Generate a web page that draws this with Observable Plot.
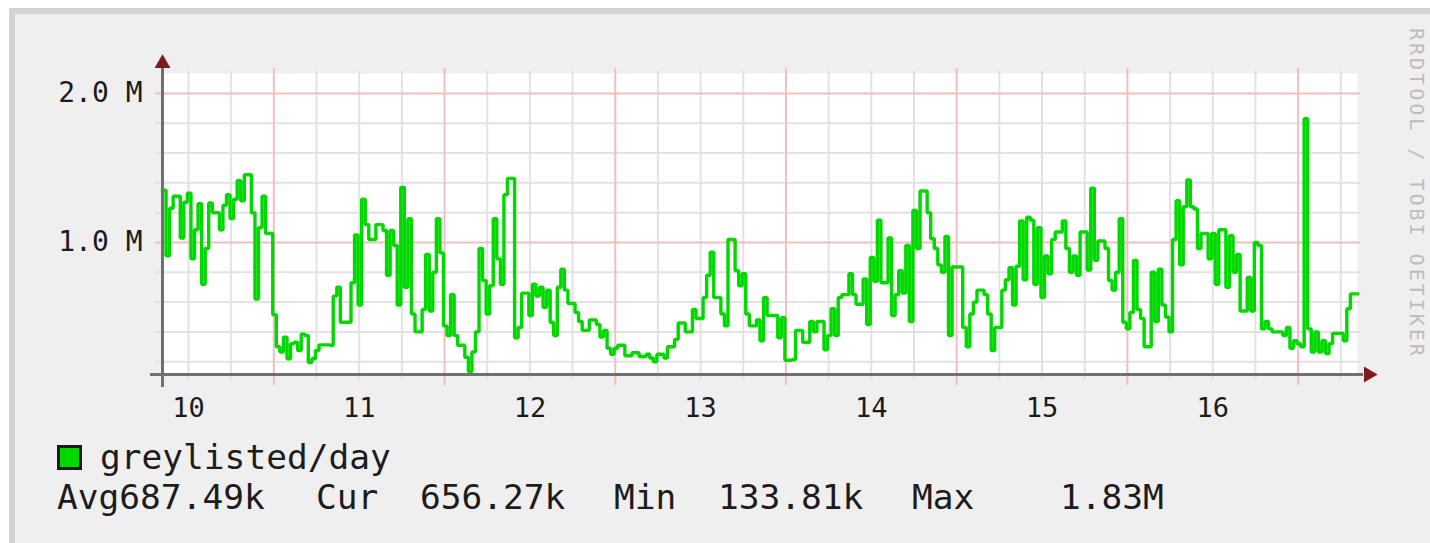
<!DOCTYPE html>
<html>
<head>
<meta charset="utf-8">
<script src="https://cdn.jsdelivr.net/npm/d3@7"></script>
<script src="https://cdn.jsdelivr.net/npm/@observablehq/plot@0.6"></script>
<style>
  html, body { margin: 0; padding: 0; background: #ffffff; }
  #wrap { position: relative; width: 1430px; height: 543px; overflow: hidden; background: #ffffff; }
  #canvas { position: absolute; left: 9px; top: 8px; right: 0; bottom: 0; background: #efefef;
            border-top: 6px solid #d3d3d3; border-left: 6px solid #d3d3d3; }
  #chart { position: absolute; left: 0; top: 0; }
  .mono { font-family: "DejaVu Sans Mono", "Liberation Mono", monospace; color: #1c1c1c; position: absolute; white-space: pre; line-height: 34px; font-size: 34.5px; }
  #swatch { position: absolute; left: 57px; top: 445px; width: 25px; height: 25px; box-sizing: border-box; border: 3px solid #1a1a1a; }
  #watermark { position: absolute; left: 1407px; top: 28px; writing-mode: vertical-rl; font-family: "DejaVu Sans Mono", monospace;
               font-size: 20px; line-height: 20px; letter-spacing: 3px; color: #bdbdbd; white-space: pre; }
</style>
</head>
<body>
<div id="wrap">
  <div id="canvas"></div>
  <div id="chart"></div>
  <div id="swatch"></div>
  <div id="legendLabel" class="mono" style="left:100px; top:440px;"></div>
  <div id="stats"></div>
  <div id="watermark"></div>
</div>
<script>
// ---- data (values in thousands, one value per 30 minutes) ----
const seriesName = "greylisted/day";
const greylistedK = [
  1350,910,1230,1310,1310,1030,1270,1330,890,1085,1260,720,960,1265,1200,1200,1085,1250,1320,1160,1290,1415,1280,1455,
  1455,1200,620,1100,1310,1060,1060,515,300,265,365,220,320,330,275,385,375,195,220,275,313,313,313,310,
  640,700,465,465,465,730,1050,580,1290,1120,1020,1020,1120,1120,1080,780,1080,980,580,1370,700,1160,520,400,
  400,550,920,540,800,1160,930,440,375,650,375,310,310,230,134,265,400,960,745,520,710,1160,890,720,
  1320,1430,1430,360,430,660,660,510,720,640,700,565,680,465,375,700,820,680,590,590,530,470,410,410,
  480,480,450,365,410,290,250,290,310,310,240,240,260,260,235,235,250,225,200,250,250,225,300,300,
  350,460,460,400,400,550,490,490,630,780,935,630,630,520,440,1020,1020,810,710,790,520,440,440,480,
  340,630,510,510,510,360,495,210,210,215,410,410,330,330,470,400,470,470,280,375,555,375,630,
  650,650,790,650,585,585,755,450,900,740,1150,730,730,1030,510,650,810,660,980,470,1215,960,1345,1345,
  1200,1025,960,850,800,1040,375,835,835,835,430,300,520,600,680,680,650,520,275,430,430,680,750,830,
  580,840,1145,750,1170,1150,720,1100,630,910,790,1020,1070,1070,1145,960,800,910,780,1070,1070,815,1365,880,
  1010,1010,960,745,680,800,1160,465,420,530,880,550,490,300,300,800,470,820,580,500,400,1020,1280,850,
  1240,1420,1240,1225,960,1060,1060,890,1060,720,1085,1085,700,1045,800,920,540,540,765,540,1000,980,420,470,
  420,400,400,400,375,430,290,340,320,300,1830,420,265,400,265,340,255,320,390,390,390,340,555,655,655
];
const dayLabels = ["10", "11", "12", "13", "14", "15", "16"];
const yMinorTicks = [200000, 400000, 600000, 800000, 1200000, 1400000, 1600000, 1800000];
const yMajorTicks = [1000000, 2000000];
const statNames = ["Avg", "Cur", "Min", "Max"];
const statValues = ["687.49k", "656.27k", "133.81k", "1.83M"];
const watermarkText = "RRDTOOL / TOBI OETIKER";

// ---- time frame ----
const start = new Date(Date.UTC(2024, 5, 10, 8, 21));
const end = new Date(+start + 7 * 24 * 3600e3);
const halfHour = 1800e3;

const data = greylistedK.map((v, i) => ({ t: new Date(+start + i * halfHour), v: v * 1000 }));
data.push({ t: end, v: greylistedK[greylistedK.length - 1] * 1000 });

const sixHours = d3.utcHour.every(6).range(start, end);
const midnights = sixHours.filter(d => d.getUTCHours() === 0);
const minorX = sixHours.filter(d => d.getUTCHours() !== 0);
const noonTicks = dayLabels.map(d => new Date(Date.UTC(2024, 5, +d, 12)));

const green = "#00d900";
const axisColor = "#707070";
const arrowColor = "#7d1c1c";
const minorGrid = "#e2e2e2";
const majorGrid = "#f2bfbf";
const yLow = 114000, yHigh = 2134000;

const chart = Plot.plot({
  width: 1430,
  height: 543,
  marginLeft: 162,
  marginRight: 73,
  marginTop: 73,
  marginBottom: 169,
  style: { background: "transparent", fontFamily: "DejaVu Sans Mono", color: "#1c1c1c" },
  x: { type: "utc", domain: [start, end] },
  y: { domain: [yLow, yHigh] },
  marks: [
    Plot.frame({ fill: "white", stroke: "none" }),
    Plot.ruleY(yMinorTicks, { stroke: minorGrid, strokeWidth: 2, insetLeft: -7, insetRight: -3 }),
    Plot.ruleX(minorX, { stroke: minorGrid, strokeWidth: 2, insetTop: -2, insetBottom: -6 }),
    Plot.ruleY(yMajorTicks, { stroke: majorGrid, strokeWidth: 2, insetLeft: -7, insetRight: -3 }),
    Plot.ruleX(midnights, { stroke: majorGrid, strokeWidth: 2, insetTop: -5, insetBottom: -11 }),
    Plot.line(data, { x: "t", y: "v", curve: "step-after", stroke: green, strokeWidth: 3.4,
                      strokeLinejoin: "miter", strokeLinecap: "square" }),
    Plot.ruleX([start], { stroke: axisColor, strokeWidth: 3, insetTop: -5, insetBottom: -13 }),
    Plot.ruleY([yLow], { stroke: axisColor, strokeWidth: 3, insetLeft: -12, insetRight: -6 }),
    Plot.dot([0], { frameAnchor: "top-left", symbol: "triangle", r: 5.9, fill: arrowColor, stroke: "none", dy: -10 }),
    Plot.dot([0], { frameAnchor: "bottom-right", symbol: "triangle", r: 5.9, fill: arrowColor, stroke: "none", rotate: 90, dx: 11 }),
    Plot.axisX(noonTicks, { tickSize: 0, tickPadding: 23, fontSize: 27, fontFamily: "DejaVu Sans Mono",
                            tickFormat: d => String(d.getUTCDate()), label: null }),
    Plot.axisY(yMajorTicks, { tickSize: 0, tickPadding: 20, fontSize: 28, fontFamily: "DejaVu Sans Mono",
                              tickFormat: d => (d / 1e6).toFixed(1) + " M", label: null })
  ]
});
document.getElementById("chart").appendChild(chart);

// ---- legend ----
document.getElementById("swatch").style.background = green;
document.getElementById("legendLabel").textContent = seriesName;
const statsDiv = document.getElementById("stats");
const statPieces = [
  { text: statNames[0] + statValues[0], left: 57 },
  { text: statNames[1], left: 316 },
  { text: statValues[1], left: 420 },
  { text: statNames[2], left: 614 },
  { text: statValues[2], left: 718 },
  { text: statNames[3], left: 912 },
  { text: statValues[3], left: 1060 }
];
for (const p of statPieces) {
  const s = document.createElement("div");
  s.className = "mono";
  s.style.left = p.left + "px";
  s.style.top = "480px";
  s.textContent = p.text;
  statsDiv.appendChild(s);
}
document.getElementById("watermark").textContent = watermarkText;
</script>
</body>
</html>
